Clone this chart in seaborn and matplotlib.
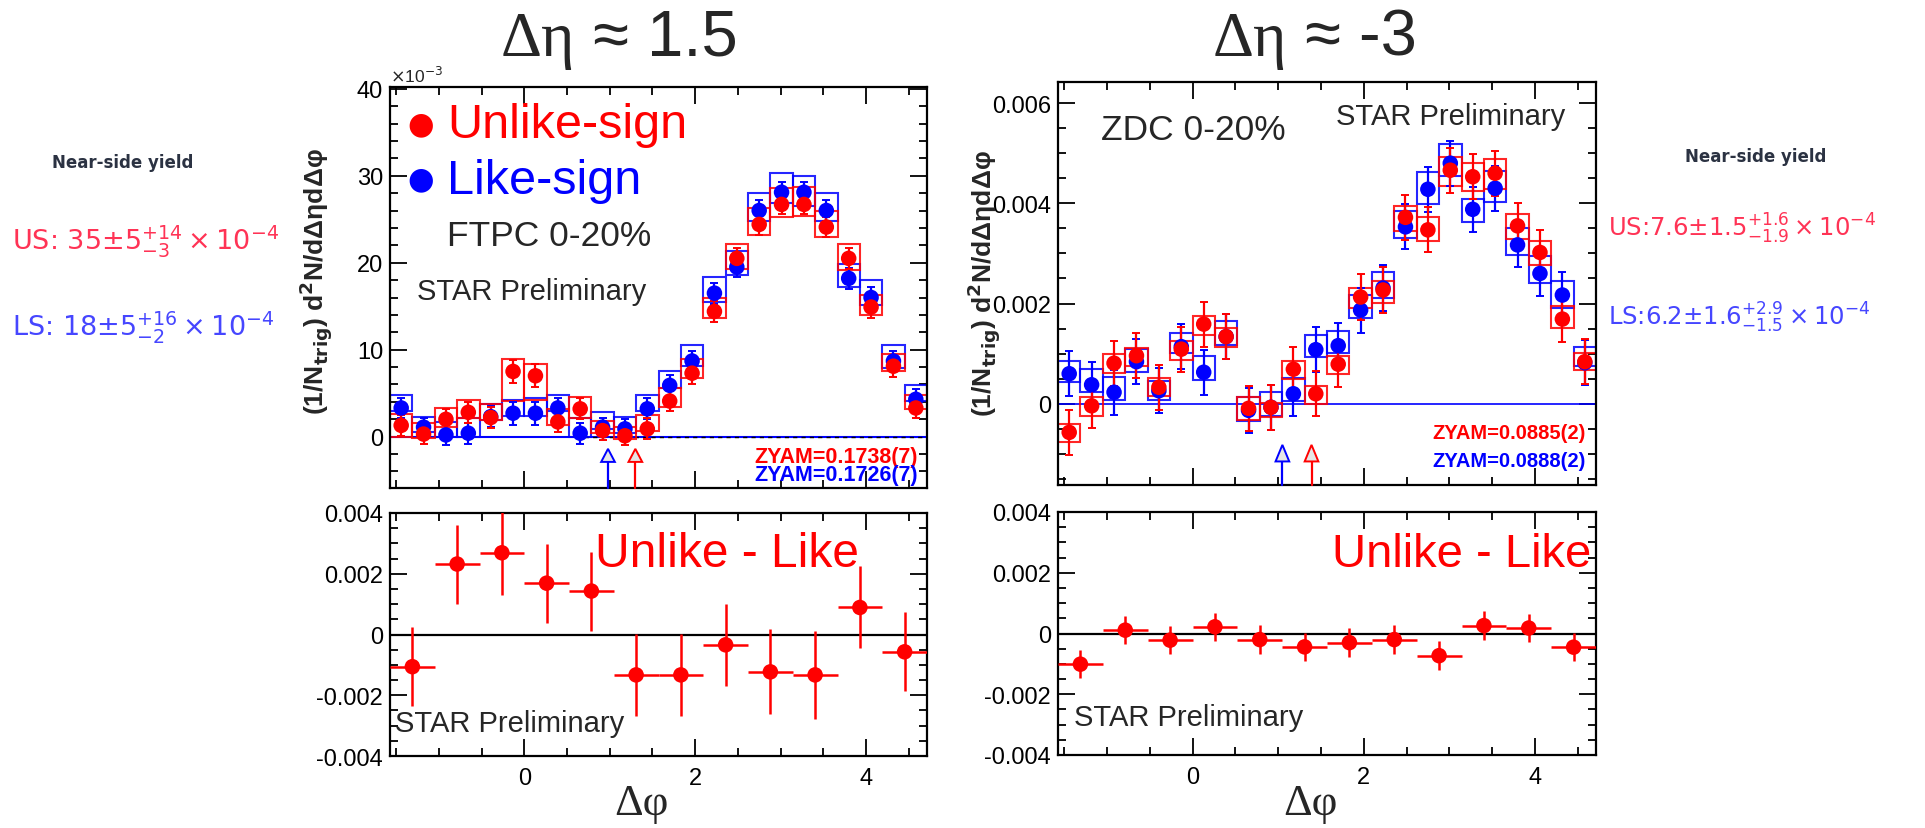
import numpy as np
import pandas as pd
import matplotlib
matplotlib.use("Agg")
import matplotlib.pyplot as plt
from matplotlib.patches import Rectangle
from matplotlib.ticker import MultipleLocator, FuncFormatter
import seaborn as sns

# ---------------- data ----------------
# Top panels: 24 bins in delta-phi; values in units of 1e-3
us_ftpc = [1.3, 0.3, 2.0, 2.8, 2.2, 7.5, 7.0, 1.7, 3.2, 0.7, 0.1, 0.9,
           4.1, 7.3, 14.4, 20.5, 24.4, 26.7, 26.7, 24.1, 20.5, 14.9, 8.1, 3.3]
ls_ftpc = [3.3, 1.1, 0.2, 0.4, 2.3, 2.7, 2.7, 3.3, 0.4, 1.1, 0.9, 3.2,
           5.9, 8.7, 16.5, 19.5, 26.0, 28.1, 28.1, 26.0, 18.2, 16.0, 8.7, 4.3]
us_ftpc_stat = [1.2, 1.1, 1.2, 1.2, 1.2, 1.3, 1.3, 1.2, 1.2, 1.1, 1.1, 1.2,
                1.2, 1.2, 1.2, 1.2, 1.2, 1.1, 1.1, 1.2, 1.2, 1.2, 1.2, 1.2]
ls_ftpc_stat = [1.2, 1.1, 1.2, 1.2, 1.2, 1.3, 1.3, 1.2, 1.2, 1.1, 1.1, 1.2,
                1.2, 1.2, 1.2, 1.2, 1.2, 1.2, 1.2, 1.2, 1.2, 1.2, 1.2, 1.2]
us_ftpc_sys_hi = [2.6, 1.6, 3.3, 4.2, 3.7, 8.9, 8.4, 3.2, 4.6, 1.8, 1.1, 2.5,
                  5.6, 8.9, 15.9, 22.2, 26.3, 28.6, 28.7, 26.0, 22.2, 16.3, 9.5, 4.8]
us_ftpc_sys_lo = [0.0, -0.1, 1.1, 2.1, 1.9, 4.1, 4.2, 1.4, 2.2, 0.4, -0.3, 0.6,
                  3.4, 6.8, 13.6, 19.3, 23.2, 25.3, 25.4, 23.0, 19.2, 14.0, 7.6, 3.2]
ls_ftpc_sys_hi = [4.8, 2.3, 1.7, 2.2, 3.8, 4.2, 4.4, 4.8, 2.2, 2.8, 2.3, 4.8,
                  7.5, 10.5, 18.4, 21.4, 28.0, 30.3, 30.0, 28.0, 19.8, 18.0, 10.5, 5.9]
ls_ftpc_sys_lo = [2.9, 0.5, 0.0, 0.0, 1.9, 2.4, 2.4, 3.0, 0.0, 0.9, 0.4, 3.0,
                  5.6, 8.1, 15.5, 18.6, 24.8, 26.9, 26.5, 24.8, 17.2, 15.1, 7.9, 4.1]

us_zdc = [-0.57, -0.04, 0.81, 0.96, 0.33, 1.09, 1.59, 1.34, -0.09, -0.07, 0.69, 0.20,
          0.79, 2.13, 2.27, 3.72, 3.47, 4.66, 4.53, 4.60, 3.55, 3.02, 1.69, 0.84]
ls_zdc = [0.60, 0.38, 0.23, 0.84, 0.26, 1.14, 0.63, 1.34, -0.13, -0.07, 0.20, 1.08,
          1.16, 1.87, 2.31, 3.53, 4.28, 4.80, 3.88, 4.30, 3.17, 2.60, 2.17, 0.82]
us_zdc_stat = [0.45] * 24
ls_zdc_stat = [0.45] * 24
us_zdc_sys_hi = [-0.41, 0.13, 0.99, 1.11, 0.51, 1.26, 1.75, 1.52, 0.13, 0.01, 0.86, 0.36,
                 0.96, 2.31, 2.44, 3.95, 3.73, 4.92, 4.81, 4.88, 3.79, 3.24, 1.95, 1.02]
us_zdc_sys_lo = [-0.77, -0.24, 0.62, 0.76, 0.16, 0.88, 1.38, 1.13, -0.32, -0.27, 0.49, 0.00,
                 0.59, 1.91, 2.01, 3.44, 3.24, 4.35, 4.25, 4.28, 3.29, 2.77, 1.51, 0.68]
ls_zdc_sys_hi = [0.86, 0.69, 0.54, 1.09, 0.45, 1.42, 0.96, 1.65, 0.13, 0.23, 0.51, 1.38,
                 1.46, 2.17, 2.62, 3.85, 4.62, 5.18, 4.08, 4.65, 3.50, 2.94, 2.45, 1.14]
ls_zdc_sys_lo = [0.43, 0.23, 0.08, 0.64, 0.08, 1.01, 0.48, 1.18, -0.34, -0.24, 0.05, 0.94,
                 1.01, 1.71, 2.11, 3.30, 3.99, 4.54, 3.62, 4.02, 2.96, 2.41, 1.91, 0.76]

# Bottom panels: 12 bins, unlike minus like (units of 1e-3)
diff_ftpc = [-1.06, 2.32, 2.69, 1.69, 1.43, -1.33, -1.33, -0.34, -1.23, -1.33, 0.89, -0.57]
diff_ftpc_err = [1.30, 1.30, 1.40, 1.30, 1.30, 1.35, 1.35, 1.35, 1.40, 1.45, 1.35, 1.30]
diff_zdc = [-1.01, 0.11, -0.22, 0.22, -0.20, -0.44, -0.30, -0.20, -0.73, 0.26, 0.18, -0.45]
diff_zdc_err = [0.47] * 12

# ZYAM trigger arrows (delta-phi positions)
arrow_ftpc = {"like": 0.98, "unlike": 1.30}
arrow_zdc = {"like": 1.05, "unlike": 1.39}

titles = ["Δη", "Δη"]
title_rest = [" ≈ 1.5", " ≈ -3"]

# ---------------- style ----------------
sns.set_theme(style="ticks")
plt.rcParams["font.family"] = ["Liberation Sans", "DejaVu Sans"]
plt.rcParams["axes.unicode_minus"] = False
plt.rcParams["mathtext.fontset"] = "dejavusans"

RED = "#ff0000"
BLUE = "#0000ff"
W, H = 1925, 829
fig = plt.figure(figsize=(W / 100, H / 100), dpi=100)
fig.patch.set_facecolor("white")


def fx(px):
    return px / W


def fy(py):
    return 1 - py / H


def ax_at(l, t, r, b):
    return fig.add_axes([fx(l), fy(b), fx(r) - fx(l), (b - t) / H])


PI = np.pi
edges24 = np.linspace(-PI / 2, 3 * PI / 2, 25)
cent24 = 0.5 * (edges24[:-1] + edges24[1:])
bw24 = edges24[1] - edges24[0]
edges12 = np.linspace(-PI / 2, 3 * PI / 2, 13)
cent12 = 0.5 * (edges12[:-1] + edges12[1:])
bw12 = edges12[1] - edges12[0]


def style_axes(ax, ymaj, ymin, labelbottom=True):
    ax.set_xlim(-PI / 2, 3 * PI / 2)
    ax.xaxis.set_major_locator(MultipleLocator(2))
    ax.xaxis.set_minor_locator(MultipleLocator(0.5))
    ax.yaxis.set_major_locator(MultipleLocator(ymaj))
    ax.yaxis.set_minor_locator(MultipleLocator(ymin))
    ax.tick_params(which="both", direction="in", top=True, right=True,
                   width=1.3, colors="black", labelsize=17, pad=5)
    ax.tick_params(which="major", length=12)
    ax.tick_params(which="minor", length=6)
    ax.tick_params(axis="x", labelbottom=labelbottom, pad=8)
    for s in ax.spines.values():
        s.set_linewidth(1.6)
        s.set_color("black")
    ax.set_xlabel("")
    ax.set_ylabel("")


def draw_series(ax, vals, stat, lo, hi, color, scale):
    v = np.asarray(vals) * scale
    for c, l, h in zip(cent24, lo, hi):
        ax.add_patch(Rectangle((c - bw24 / 2, l * scale), bw24, (h - l) * scale,
                               fill=False, ec=color, lw=1.5, alpha=0.85, zorder=2))
    ax.errorbar(cent24, v, yerr=np.asarray(stat) * scale, fmt="none", ecolor=color,
                elinewidth=1.6, capsize=3, capthick=1.4, zorder=3)
    df = pd.DataFrame({"dphi": cent24, "y": v})
    sns.scatterplot(data=df, x="dphi", y="y", color=color, s=125, edgecolor="none",
                    ax=ax, zorder=4, legend=False)


def draw_arrow(ax, x, tip, base, bottom, color):
    ax.plot([x, x], [bottom, base], color=color, lw=1.6, zorder=3, clip_on=False)
    tri = plt.Polygon([[x - 0.08, base], [x + 0.08, base], [x, tip]], closed=True,
                      fc="#e6e6e6", ec=color, lw=1.4, zorder=3)
    ax.add_patch(tri)


# ---------------- top-left: FTPC ----------------
ax1 = ax_at(390, 88, 927, 489)
draw_series(ax1, ls_ftpc, ls_ftpc_stat, ls_ftpc_sys_lo, ls_ftpc_sys_hi, BLUE, 1.0)
draw_series(ax1, us_ftpc, us_ftpc_stat, us_ftpc_sys_lo, us_ftpc_sys_hi, RED, 1.0)
ax1.axhline(0, color=BLUE, lw=1.5, zorder=1)
ax1.plot([0.6, 3 * PI / 2], [0, 0], color="black", lw=1.0, ls=(0, (3, 3)), zorder=1)
style_axes(ax1, 10, 2, labelbottom=False)
ax1.set_ylim(-5.9, 40.2)
draw_arrow(ax1, arrow_ftpc["like"], -1.4, -2.9, -5.9, BLUE)
draw_arrow(ax1, arrow_ftpc["unlike"], -1.4, -2.9, -5.9, RED)
ax1.text(0.0, 1.005, r"$\times$10$^{-3}$", transform=ax1.transAxes, fontsize=12.5,
         ha="left", va="bottom")

# ---------------- top-right: ZDC ----------------
ax2 = ax_at(1058, 83, 1596, 486)
draw_series(ax2, ls_zdc, ls_zdc_stat, ls_zdc_sys_lo, ls_zdc_sys_hi, BLUE, 1e-3)
draw_series(ax2, us_zdc, us_zdc_stat, us_zdc_sys_lo, us_zdc_sys_hi, RED, 1e-3)
ax2.axhline(0, color=BLUE, lw=1.2, zorder=1)
style_axes(ax2, 0.002, 0.0005, labelbottom=False)
ax2.set_ylim(-0.00162, 0.00642)
ax2.yaxis.set_major_formatter(FuncFormatter(lambda v, p: "0" if abs(v) < 1e-9 else f"{v:.3f}"))
draw_arrow(ax2, arrow_zdc["like"], -0.00082, -0.00115, -0.00162, BLUE)
draw_arrow(ax2, arrow_zdc["unlike"], -0.00082, -0.00115, -0.00162, RED)


# ---------------- bottom panels: difference ----------------
def draw_diff(ax, vals, errs):
    v = np.asarray(vals) * 1e-3
    e = np.asarray(errs) * 1e-3
    ax.axhline(0, color="black", lw=1.6, zorder=1)
    ax.errorbar(cent12, v, yerr=e, xerr=bw12 / 2, fmt="none", ecolor=RED,
                elinewidth=1.8, capsize=0, zorder=3)
    df = pd.DataFrame({"dphi": cent12, "y": v})
    sns.scatterplot(data=df, x="dphi", y="y", color=RED, s=125, edgecolor="none",
                    ax=ax, zorder=4, legend=False)
    style_axes(ax, 0.002, 0.0005)
    ax.set_ylim(-0.004, 0.004)
    ax.yaxis.set_major_formatter(FuncFormatter(lambda v, p: "0" if abs(v) < 1e-9 else f"{v:.3f}"))


ax3 = ax_at(390, 514, 927, 757)
draw_diff(ax3, diff_ftpc, diff_ftpc_err)
ax4 = ax_at(1058, 513, 1596, 756)
draw_diff(ax4, diff_zdc, diff_zdc_err)

# ---------------- annotations ----------------
ylab = r"(1/N$_{\mathbf{trig}}$) d$^{\mathbf{2}}$N/dΔηdΔφ"
fig.text(fx(316), fy(282), ylab, rotation=90, ha="center", va="center",
         fontsize=19, fontweight="bold")
fig.text(fx(984), fy(284), ylab, rotation=90, ha="center", va="center",
         fontsize=19, fontweight="bold")

# legend in FTPC panel
fig.text(fx(421), fy(125), "●", color=RED, fontsize=22, ha="center", va="center",
         family="DejaVu Sans")
fig.text(fx(447), fy(126), "Unlike-sign", color=RED, fontsize=35, ha="left", va="center")
fig.text(fx(421), fy(180), "●", color=BLUE, fontsize=22, ha="center", va="center",
         family="DejaVu Sans")
fig.text(fx(447), fy(181), "Like-sign", color=BLUE, fontsize=35, ha="left", va="center")
fig.text(fx(549), fy(237), "FTPC 0-20%", fontsize=25.5, ha="center", va="center")
fig.text(fx(417), fy(292), "STAR Preliminary", fontsize=21, ha="left", va="center")
fig.text(fx(918), fy(458), "ZYAM=0.1738(7)", color=RED, fontsize=15.5, fontweight="bold",
         ha="right", va="center")
fig.text(fx(918), fy(476), "ZYAM=0.1726(7)", color=BLUE, fontsize=15.5, fontweight="bold",
         ha="right", va="center")

fig.text(fx(1101), fy(131), "ZDC 0-20%", fontsize=25.5, ha="left", va="center")
fig.text(fx(1336), fy(117), "STAR Preliminary", fontsize=21, ha="left", va="center")
fig.text(fx(1586), fy(434), "ZYAM=0.0885(2)", color=RED, fontsize=14.5, fontweight="bold",
         ha="right", va="center")
fig.text(fx(1586), fy(462), "ZYAM=0.0888(2)", color=BLUE, fontsize=14.5, fontweight="bold",
         ha="right", va="center")

for l_unl, l_star, yu, ys, fs in [(595, 395, 555, 724, 34.5), (1332, 1074, 555, 718, 34)]:
    fig.text(fx(l_unl), fy(yu), "Unlike - Like", color=RED, fontsize=fs, ha="left", va="center")
    fig.text(fx(l_star), fy(ys), "STAR Preliminary", fontsize=21, ha="left", va="center")

# delta-phi axis labels
for cx in (641, 1310):
    fig.text(fx(cx), fy(815), "Δφ", fontsize=32, ha="center", va="baseline",
             family="Liberation Serif")

# titles
for cx, a, b in [(575, titles[0], title_rest[0]), (1287, titles[1], title_rest[1])]:
    fig.text(fx(cx), fy(56), a, fontsize=46, ha="right", va="baseline",
             family=["Liberation Serif", "DejaVu Serif"])
    fig.text(fx(cx), fy(56), b, fontsize=47, ha="left", va="baseline",
             family=["Liberation Sans Narrow", "Liberation Sans", "DejaVu Sans"])

# near-side yields
NS = "#2b3242"
US_C = "#ff3355"
LS_C = "#4646ff"
fig.text(fx(123), fy(163), "Near-side yield", color=NS, fontsize=12, ha="center",
         va="center", family="DejaVu Sans", fontweight="bold")
fig.text(fx(12), fy(241), r"US: $35{\pm}5^{+14}_{-3}\times10^{-4}$", color=US_C,
         fontsize=19.5, ha="left", va="center", family="DejaVu Sans")
fig.text(fx(12), fy(327), r"LS: $18{\pm}5^{+16}_{-2}\times10^{-4}$", color=LS_C,
         fontsize=19.5, ha="left", va="center", family="DejaVu Sans")
fig.text(fx(1756), fy(157), "Near-side yield", color=NS, fontsize=12, ha="center",
         va="center", family="DejaVu Sans", fontweight="bold")
fig.text(fx(1608), fy(229), r"US:$7.6{\pm}1.5^{+1.6}_{-1.9}\times10^{-4}$", color=US_C,
         fontsize=17.5, ha="left", va="center", family="DejaVu Sans")
fig.text(fx(1608), fy(318), r"LS:$6.2{\pm}1.6^{+2.9}_{-1.5}\times10^{-4}$", color=LS_C,
         fontsize=17.5, ha="left", va="center", family="DejaVu Sans")

fig.savefig("out.png", dpi=100, facecolor="white")
